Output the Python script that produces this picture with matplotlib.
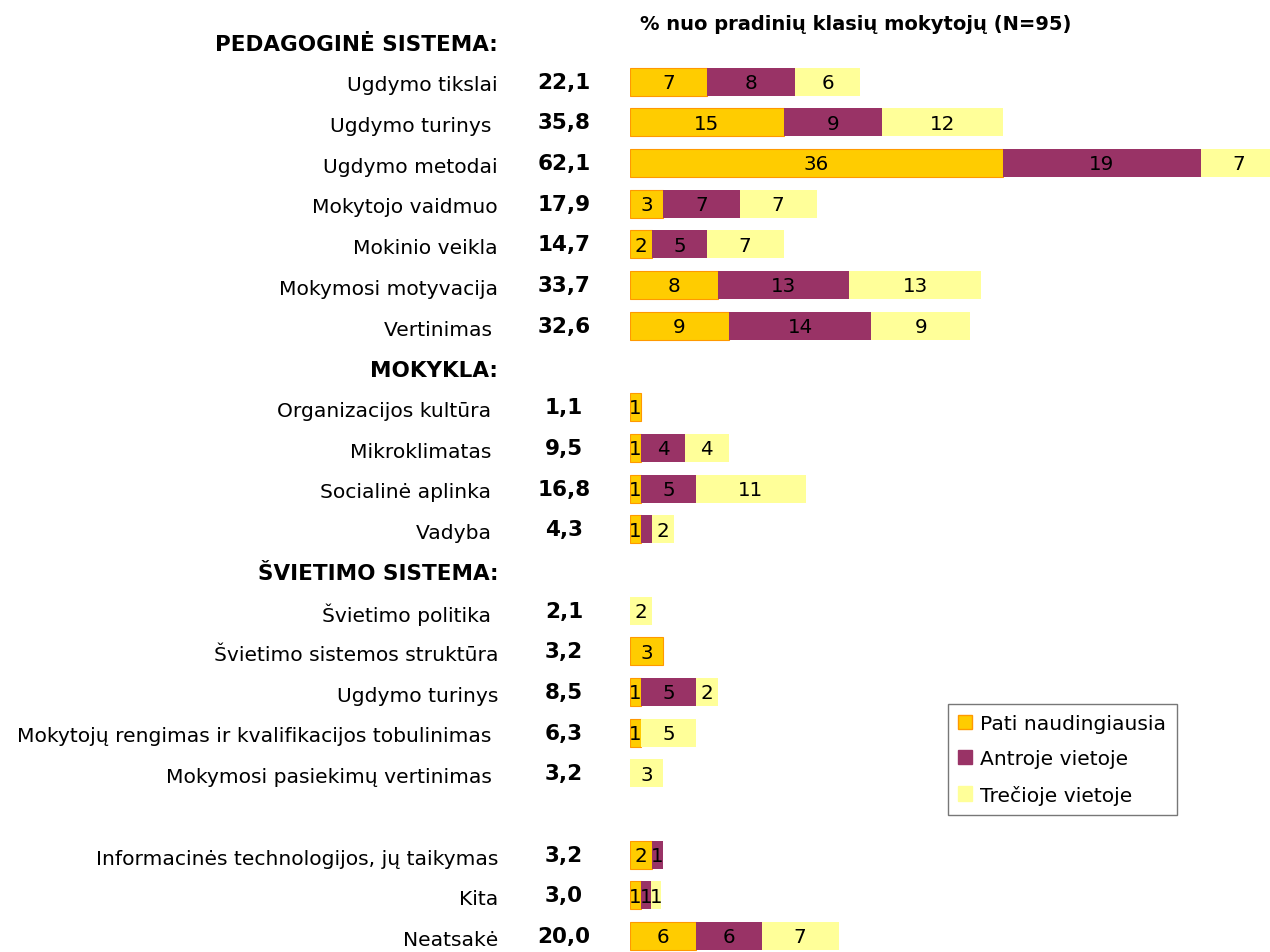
import matplotlib
matplotlib.use("Agg")
import matplotlib.pyplot as plt
import matplotlib.transforms as mtransforms
from matplotlib.patches import Patch

# rows top to bottom; headers have no bars
rows = ["PEDAGOGINĖ SISTEMA:",
        "Ugdymo tikslai", "Ugdymo turinys ", "Ugdymo metodai", "Mokytojo vaidmuo",
        "Mokinio veikla", "Mokymosi motyvacija", "Vertinimas ",
        "MOKYKLA:",
        "Organizacijos kultūra ", "Mikroklimatas ", "Socialinė aplinka ", "Vadyba ",
        "ŠVIETIMO SISTEMA:",
        "Švietimo politika ", "Švietimo sistemos struktūra", "Ugdymo turinys",
        "Mokytojų rengimas ir kvalifikacijos tobulinimas ", "Mokymosi pasiekimų vertinimas ",
        "",
        "Informacinės technologijos, jų taikymas", "Kita", "Neatsakė"]
headers = ["PEDAGOGINĖ SISTEMA:", "MOKYKLA:", "ŠVIETIMO SISTEMA:"]

totals = ["", "22,1", "35,8", "62,1", "17,9", "14,7", "33,7", "32,6",
          "", "1,1", "9,5", "16,8", "4,3",
          "", "2,1", "3,2", "8,5", "6,3", "3,2",
          "", "3,2", "3,0", "20,0"]

# % of teachers (N=95)
first = [0, 7.37, 14.74, 35.79, 3.16, 2.11, 8.42, 9.47,
         0, 1.05, 1.05, 1.05, 1.05,
         0, 0, 3.16, 1.05, 1.05, 0,
         0, 2.11, 1.05, 6.32]
second = [0, 8.42, 9.47, 18.95, 7.37, 5.26, 12.63, 13.68,
          0, 0, 4.21, 5.26, 1.05,
          0, 0, 0, 5.26, 0, 0,
          0, 1.05, 0.95, 6.32]
third = [0, 6.32, 11.58, 7.37, 7.37, 7.37, 12.63, 9.47,
         0, 0, 4.21, 10.53, 2.11,
         0, 2.11, 0, 2.11, 5.26, 3.16,
         0, 0, 1.0, 7.37]

series_names = ["Pati naudingiausia", "Antroje vietoje", "Trečioje vietoje"]
colors = ["#FFCC00", "#993366", "#FFFF99"]
edges = ["#FF9900", "#993366", "#FFFF99"]

FS = 14.6

fig = plt.figure(figsize=(12.7, 9.53), dpi=100)
ax = fig.add_axes([630 / 1270, 0, 640 / 1270, 1])
ax.set_xlim(0, 61.4)
ax.set_ylim(22.39, -1.032)
ax.axis("off")

left = [0] * len(rows)
for k, vals in enumerate([first, second, third]):
    idx = [i for i, v in enumerate(vals) if v > 0]
    ax.barh(idx, [vals[i] for i in idx], left=[left[i] for i in idx], height=0.69,
            color=colors[k], edgecolor=edges[k], linewidth=0.8 if k == 0 else 0)
    for i in idx:
        v = vals[i]
        if not (k == 1 and rows[i] == "Vadyba "):
            ax.text(left[i] + v / 2, i + 0.02, str(int(round(v))),
                    ha="center", va="center", fontsize=14.3, clip_on=True)
    left = [a + b for a, b in zip(left, vals)]

tr = mtransforms.blended_transform_factory(fig.transFigure, ax.transData)
for i, name in enumerate(rows):
    bold = name in headers
    fig.text(498 / 1270, i + 0.08, name, transform=tr, ha="right", va="center",
             fontsize=15.5 if bold else FS, fontweight="bold" if bold else "normal")
    if totals[i]:
        fig.text(564 / 1270, i + 0.0, totals[i], transform=tr, ha="center",
                 va="center", fontsize=15.5, fontweight="bold")

fig.text(856 / 1270, 1 - 25 / 953, "% nuo pradinių klasių mokytojų (N=95)",
         ha="center", va="center", fontsize=14, fontweight="bold")

handles = [Patch(facecolor=colors[k], edgecolor=edges[k]) for k in range(3)]
leg = fig.legend(handles, series_names, loc="upper left",
                 bbox_to_anchor=(948 / 1270, 1 - 705 / 953), fontsize=14.6,
                 frameon=True, fancybox=False, handlelength=0.7, handleheight=0.7,
                 handletextpad=0.4, borderpad=0.5, labelspacing=0.8,
                 borderaxespad=0)
leg.get_frame().set_edgecolor("#555555")
leg.get_frame().set_linewidth(1)

fig.savefig("out.png", dpi=100)
